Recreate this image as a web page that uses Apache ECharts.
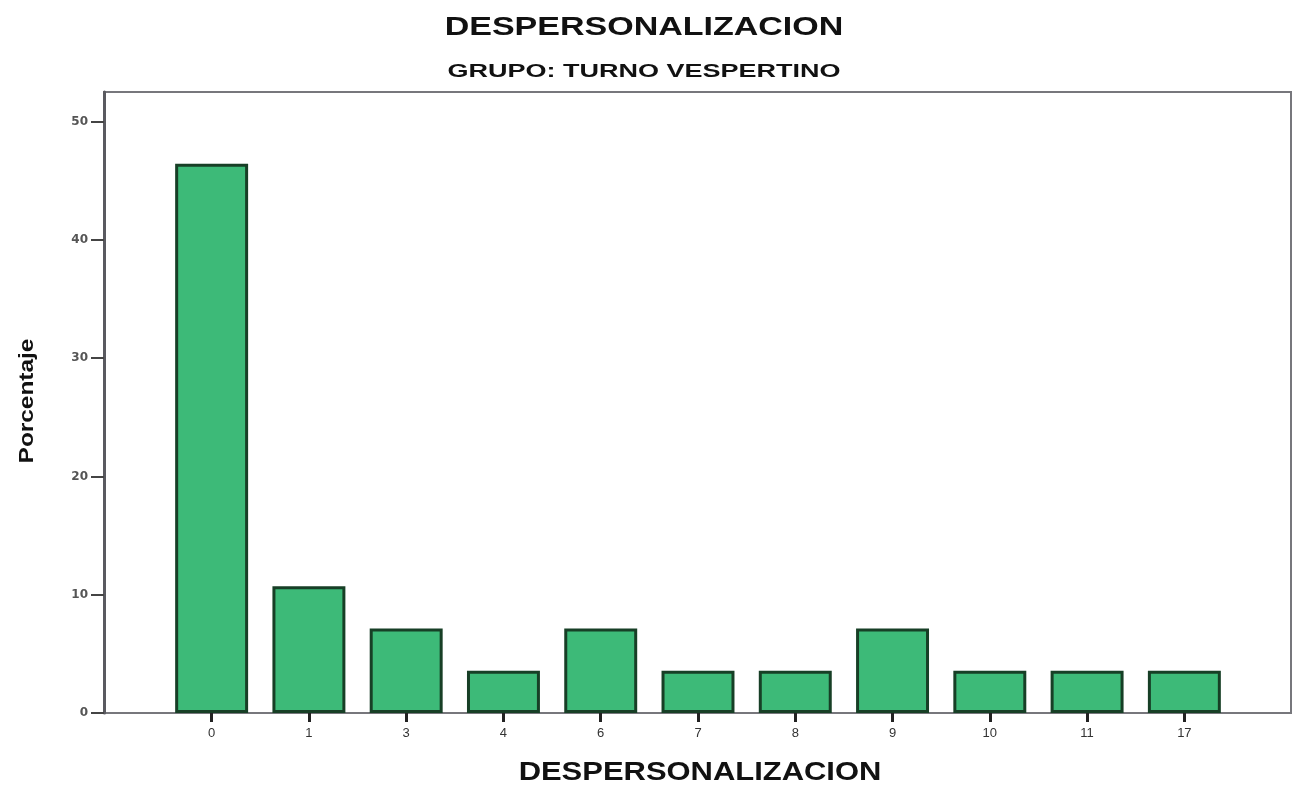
<!DOCTYPE html>
<html>
<head>
<meta charset="utf-8">
<script src="https://cdn.jsdelivr.net/npm/echarts@6/dist/echarts.min.js"></script>
<style>
  html, body { margin: 0; padding: 0; background: #ffffff; }
  #chart { width: 1294px; height: 785px; }
</style>
</head>
<body>
<div id="chart"></div>
<script>
// Puntuaciones de despersonalización (eje X) y porcentaje de casos
const categories = ['0', '1', '3', '4', '6', '7', '8', '9', '10', '11', '17'];
const percentages = [46.43, 10.71, 7.14, 3.57, 7.14, 3.57, 3.57, 7.14, 3.57, 3.57, 3.57];
const yTicks = [0, 10, 20, 30, 40, 50];

const titleText = 'DESPERSONALIZACION';
const subtitleText = 'GRUPO: TURNO VESPERTINO';
const xName = 'DESPERSONALIZACION';
const yName = 'Porcentaje';

const Y_MAX = 52.5;
const font = '"Liberation Sans", Arial, sans-serif';

const chart = echarts.init(document.getElementById('chart'));

// wide bold caption text, stretched horizontally
function caption(text, x, y, size, stretch, rotation) {
  return {
    type: 'text', x: x, y: y, scaleX: stretch, rotation: rotation || 0, silent: true,
    style: {
      text: text, fill: '#111', align: 'center', verticalAlign: 'middle',
      font: 'bold ' + size + 'px ' + font
    }
  };
}

chart.setOption({
  backgroundColor: '#ffffff',
  animation: false,
  graphic: [
    caption(titleText, 644, 28, 25, 1.36),
    caption(subtitleText, 644, 72, 18, 1.5),
    caption(xName, 700, 773, 26, 1.19),
    caption(yName, 27, 401, 20, 1.22, Math.PI / 2)
  ],
  grid: [
    // outer frame with the percentage scale
    { left: 104, top: 92, width: 1187, height: 621, show: true, outerBoundsMode: 'none',
      borderColor: '#77777c', borderWidth: 2, backgroundColor: 'transparent' },
    // inner band area holding the bars
    { left: 163, top: 92, width: 1070, height: 621, outerBoundsMode: 'none' }
  ],
  xAxis: [
    { type: 'value', gridIndex: 0, min: 0, max: 1, show: false },
    {
      type: 'category', gridIndex: 1, data: categories,
      axisLine: { show: false },
      axisTick: { show: true, alignWithLabel: true, length: 9,
        lineStyle: { color: '#222', width: 3 } },
      axisLabel: { fontFamily: font, fontSize: 13, color: '#333', margin: 14 }
    }
  ],
  yAxis: [
    {
      type: 'value', gridIndex: 0, min: 0, max: Y_MAX, interval: 10,
      splitLine: { show: false },
      axisLine: { show: true, lineStyle: { color: '#5a5a60', width: 3 } },
      axisTick: { show: true, length: 13, lineStyle: { color: '#444', width: 2 },
        customValues: yTicks },
      axisLabel: { fontFamily: '"DejaVu Sans", sans-serif', fontSize: 12, fontWeight: 'bold',
        color: '#555', margin: 16, customValues: yTicks }
    },
    { type: 'value', gridIndex: 1, min: 0, max: Y_MAX, show: false }
  ],
  series: [
    {
      type: 'bar', xAxisIndex: 1, yAxisIndex: 1,
      data: percentages,
      barCategoryGap: '25%',
      itemStyle: { color: '#3dba78', borderColor: '#173f26', borderWidth: 3 }
    }
  ]
});
</script>
</body>
</html>
